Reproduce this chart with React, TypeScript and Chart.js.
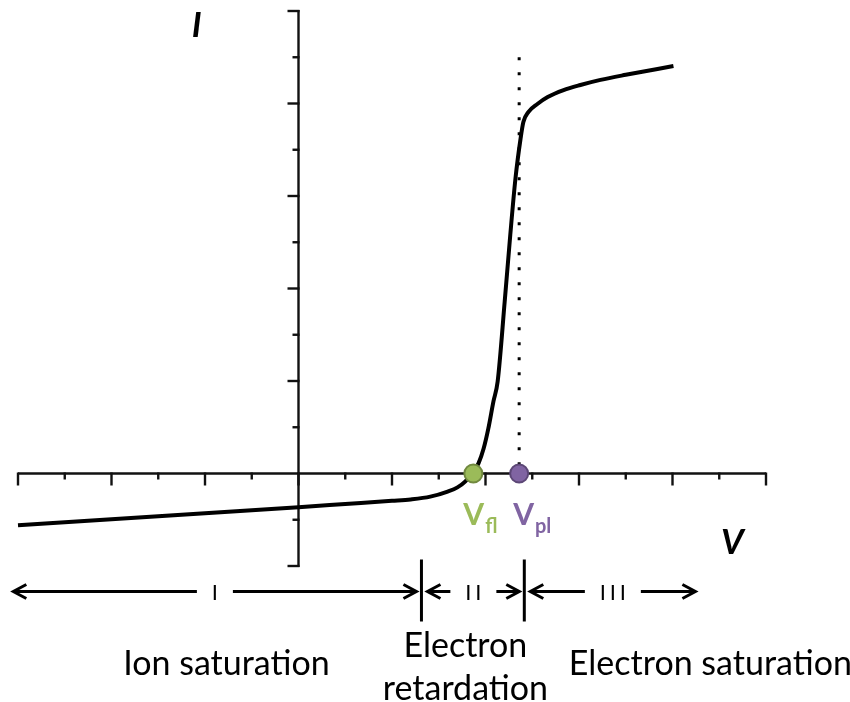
import React, { useEffect, useRef } from "react";
import { Chart, registerables } from "chart.js";

Chart.register(...registerables);

// Probe voltage (V) and probe current (I), arbitrary units
const voltage = [-6, -4, -2, 0, 1, 2, 2.4, 2.82, 3.19, 3.4, 3.57, 3.74, 3.85, 3.96, 4.06, 4.17, 4.26, 4.41, 4.53, 4.64, 4.75, 4.81, 4.92, 5.11, 5.33, 5.67, 6.03, 6.46, 7.0, 8.02];
const current = [-1.12, -0.99, -0.86, -0.73, -0.66, -0.59, -0.56, -0.5, -0.39, -0.3, -0.17, 0.04, 0.22, 0.54, 0.97, 1.56, 1.99, 3.71, 5.16, 6.37, 7.24, 7.6, 7.82, 7.99, 8.14, 8.29, 8.4, 8.51, 8.62, 8.81];

const floatingPotential = 3.74;
const plasmaPotential = 4.72;
const plasmaLineTop = 9;

const xMin = -6;
const xMax = 10;
const yMin = -2;
const yMax = 10;

const regionNumerals = ["I", "II", "III"];
const regionEdges = [-6.1, 2.63, 4.83, 8.49];
const regionNames = [["Ion saturation"], ["Electron", "retardation"], ["Electron saturation"]];
const regionNameCenters = [-1.54, 3.57, 8.81];

const GREEN = "#9BBB59";
const GREEN_DARK = "#71893F";
const PURPLE = "#8064A2";
const PURPLE_DARK = "#5C4776";
const INK = "#111111";
const FONT = "Lato, 'Noto Sans', sans-serif";

function arrowHead(ctx: CanvasRenderingContext2D, tipX: number, y: number, dir: number) {
  ctx.beginPath();
  ctx.moveTo(tipX - dir * 13, y - 7);
  ctx.lineTo(tipX, y);
  ctx.lineTo(tipX - dir * 13, y + 7);
  ctx.stroke();
}

const axesPlugin = {
  id: "crossAxes",
  beforeDatasetsDraw(chart: any) {
    const { ctx, scales } = chart;
    const xs = scales.x;
    const ys = scales.y;
    const x0 = xs.getPixelForValue(0);
    const y0 = ys.getPixelForValue(0);
    ctx.save();
    ctx.strokeStyle = INK;
    ctx.lineWidth = 2.4;
    ctx.lineCap = "butt";
    // x axis
    ctx.beginPath();
    ctx.moveTo(xs.getPixelForValue(xMin), y0);
    ctx.lineTo(xs.getPixelForValue(xMax), y0);
    ctx.stroke();
    for (let v = xMin; v <= xMax; v++) {
      const px = xs.getPixelForValue(v);
      const len = v % 2 === 0 ? 12 : 6;
      ctx.beginPath();
      ctx.moveTo(px, y0 - 1);
      ctx.lineTo(px, y0 + len);
      ctx.stroke();
    }
    // y axis
    ctx.beginPath();
    ctx.moveTo(x0, ys.getPixelForValue(yMax) - 1);
    ctx.lineTo(x0, ys.getPixelForValue(yMin) + 1);
    ctx.stroke();
    for (let v = yMin; v <= yMax; v++) {
      if (v === 0) continue;
      const py = ys.getPixelForValue(v);
      const len = v % 2 === 0 ? 11 : 6;
      ctx.beginPath();
      ctx.moveTo(x0 + 1, py);
      ctx.lineTo(x0 - len, py);
      ctx.stroke();
    }
    ctx.restore();
  },
  afterDatasetsDraw(chart: any) {
    const { ctx, scales } = chart;
    const xs = scales.x;
    const ys = scales.y;
    const y0 = ys.getPixelForValue(0);
    ctx.save();

    // axis titles
    ctx.fillStyle = "#000";
    ctx.textAlign = "center";
    ctx.textBaseline = "alphabetic";
    ctx.font = `italic bold 35px ${FONT}`;
    ctx.fillText("I", xs.getPixelForValue(-2.18), ys.getPixelForValue(yMax) + 26);
    ctx.fillText("V", xs.getPixelForValue(9.28), y0 + 80);

    // V_fl and V_pl labels
    const drawSub = (main: string, sub: string, vx: number, color: string, dx: number) => {
      const px = xs.getPixelForValue(vx) + dx;
      ctx.fillStyle = color;
      ctx.textAlign = "left";
      ctx.font = `bold 30px ${FONT}`;
      ctx.fillText(main, px, y0 + 51);
      const w = ctx.measureText(main).width;
      ctx.font = `bold 20px ${FONT}`;
      ctx.fillText(sub, px + w + 1, y0 + 59);
    };
    drawSub("V", "fl", floatingPotential, GREEN, -10);
    drawSub("V", "pl", plasmaPotential, PURPLE, -6);

    // region arrows
    ctx.strokeStyle = "#000";
    ctx.fillStyle = "#000";
    ctx.lineWidth = 3;
    ctx.lineJoin = "miter";
    const rowY = y0 + 118;
    const edgesPx = regionEdges.map((v) => xs.getPixelForValue(v));
    for (let i = 1; i < edgesPx.length - 1; i++) {
      ctx.beginPath();
      ctx.moveTo(edgesPx[i], y0 + 86);
      ctx.lineTo(edgesPx[i], y0 + 148);
      ctx.stroke();
    }
    ctx.font = `22px ${FONT}`;
    ctx.textAlign = "center";
    regionNumerals.forEach((num, i) => {
      const left = i === 0 ? edgesPx[0] : edgesPx[i] + 6;
      const right = i === regionNumerals.length - 1 ? edgesPx[i + 1] : edgesPx[i + 1] - 5;
      const c = (left + right) / 2;
      const half = ((num.length - 1) * 10) / 2 + 2;
      const gap = half + 16;
      for (let k = 0; k < num.length; k++) {
        ctx.fillText("I", c - ((num.length - 1) * 10) / 2 + k * 10, rowY + 8);
      }
      ctx.beginPath();
      ctx.moveTo(left + 1, rowY);
      ctx.lineTo(c - gap, rowY);
      ctx.moveTo(c + gap, rowY);
      ctx.lineTo(right - 1, rowY);
      ctx.stroke();
      arrowHead(ctx, left, rowY, -1);
      arrowHead(ctx, right, rowY, 1);
    });

    // region names
    ctx.font = `34px ${FONT}`;
    ctx.textAlign = "center";
    regionNames.forEach((lines, i) => {
      const cx = xs.getPixelForValue(regionNameCenters[i]);
      if (lines.length === 1) {
        ctx.fillText(lines[0], cx, y0 + 201);
      } else {
        ctx.fillText(lines[0], cx, y0 + 183);
        ctx.fillText(lines[1], cx, y0 + 226);
      }
    });
    ctx.restore();
  },
};

export default function App() {
  const canvasRef = useRef<HTMLCanvasElement | null>(null);

  useEffect(() => {
    document.body.style.margin = "0";
    const canvas = canvasRef.current;
    if (!canvas) return;
    const curve = voltage.map((v, i) => ({ x: v, y: current[i] }));
    const chart = new Chart(canvas, {
      type: "scatter",
      data: {
        datasets: [
          {
            label: "V_fl",
            data: [{ x: floatingPotential, y: 0 }],
            pointRadius: 9,
            pointBorderWidth: 2,
            backgroundColor: GREEN,
            borderColor: GREEN_DARK,
            order: 0,
            clip: false,
          } as any,
          {
            label: "V_pl",
            data: [{ x: plasmaPotential, y: 0 }],
            pointRadius: 9,
            pointBorderWidth: 2,
            backgroundColor: PURPLE,
            borderColor: PURPLE_DARK,
            order: 0,
            clip: false,
          },
          {
            label: "I-V curve",
            data: curve,
            showLine: true,
            borderColor: "#000",
            borderWidth: 4,
            pointRadius: 0,
            cubicInterpolationMode: "monotone",
            order: 1,
            clip: false,
          },
          {
            label: "plasma potential",
            data: [
              { x: plasmaPotential, y: plasmaLineTop },
              { x: plasmaPotential, y: 0 },
            ],
            showLine: true,
            borderColor: "#000",
            borderWidth: 3,
            borderDash: [3, 12],
            pointRadius: 0,
            order: 2,
            clip: false,
          },
        ],
      },
      options: {
        responsive: false,
        animation: false,
        layout: { padding: { left: 18, right: 84, top: 9, bottom: 136 } },
        scales: {
          x: { type: "linear", min: xMin, max: xMax, display: false },
          y: { type: "linear", min: yMin, max: yMax, display: false },
        },
        plugins: {
          legend: { display: false },
          tooltip: { enabled: false },
        },
      },
      plugins: [axesPlugin],
    });
    return () => chart.destroy();
  }, []);

  return (
    <div style={{ position: "absolute", left: 0, top: 0, width: 850, height: 702, background: "#fff" }}>
      <canvas ref={canvasRef} width={850} height={702} />
    </div>
  );
}
